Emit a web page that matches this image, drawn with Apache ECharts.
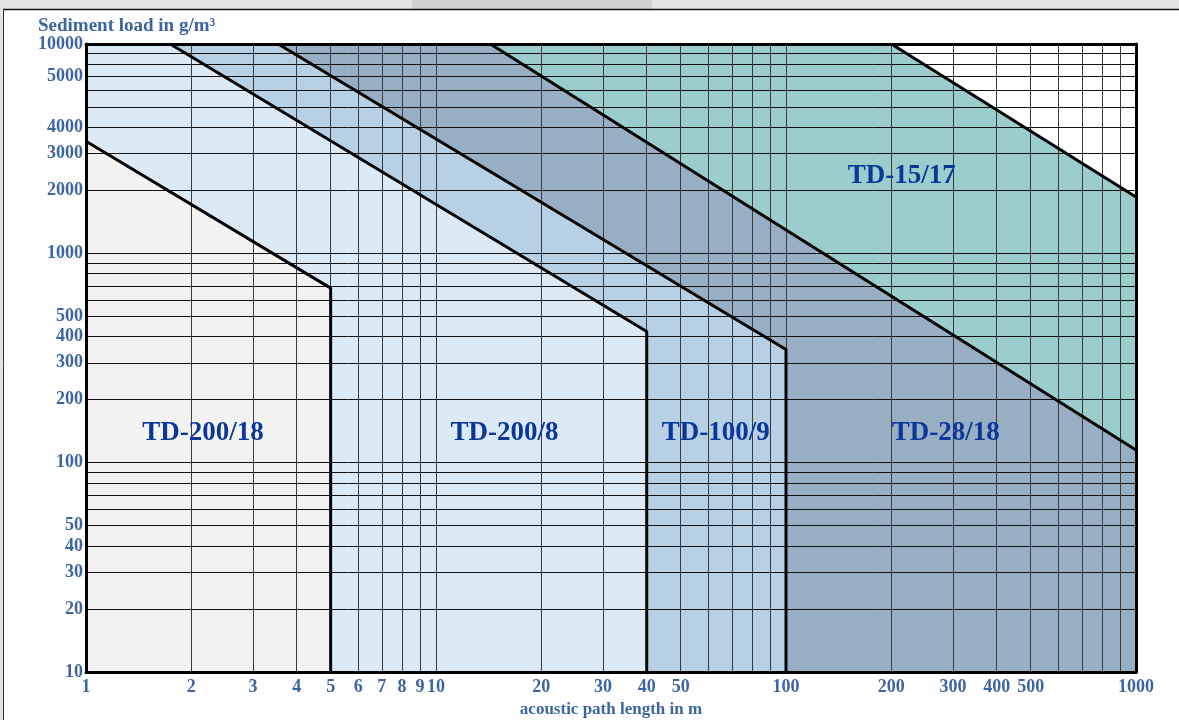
<!DOCTYPE html>
<html>
<head>
<meta charset="utf-8">
<script src="https://cdn.jsdelivr.net/npm/echarts@6/dist/echarts.min.js"></script>
<style>
html,body{margin:0;padding:0;background:#fff;}
#c{width:1179px;height:720px;}
</style>
</head>
<body>
<div id="c"></div>
<script>
// ---- data ----
const xGridValues = [1,2,3,4,5,6,7,8,9,10,20,30,40,50,60,70,80,90,100,200,300,400,500,600,700,800,900,1000];
const xLabelValues = [1,2,3,4,5,6,7,8,9,10,20,30,40,50,100,200,300,400,500,1000];
const yGridValues = [10,20,30,40,50,60,70,80,90,100,200,300,400,500,600,700,800,900,1000,2000,3000,4000,5000,6000,7000,8000,9000,10000];
const yLabelValues = [10,20,30,40,50,100,200,300,400,500,1000,2000,3000,4000,7000,10000];
const yLabelTexts  = ['10','20','30','40','50','100','200','300','400','500','1000','2000','3000','4000','5000','10000'];

// upper/right boundary of each instrument's range (path length m, sediment load g/m3)
const td15_17  = [[200,10000],[1000,1860]];
const td28_18  = [[14.3,10000],[1000,115]];
const td100_9  = [[3.54,10000],[100,347],[100,10]];
const td200_8  = [[1.74,10000],[40,423],[40,10]];
const td200_18 = [[1,3430],[5,682],[5,10]];

const regionNames = ['TD-15/17','TD-28/18','TD-100/9','TD-200/8','TD-200/18'];
const regionEdges = [td15_17, td28_18, td100_9, td200_8, td200_18];
const regionColors = ['#9ccdcd','#98aec2','#b7d0e3','#dbeaf5','#f2f2f2'];
const labelPositions = [[214,2350],[286,138],[63,138],[15.7,138],[2.16,138]];

const X_MIN = 1, X_MAX = 1000, Y_MIN = 10, Y_MAX = 10000;

function polygonOf(edge){
  const pts = [[X_MIN,Y_MIN]];
  if (edge[0][0] > X_MIN) pts.push([X_MIN,Y_MAX]);
  edge.forEach(p => pts.push(p));
  const last = edge[edge.length-1];
  if (last[1] > Y_MIN) pts.push([last[0],Y_MIN]);
  return pts;
}

const FONT = 'Liberation Serif';
const AX_COL = '#3d65a1';

const series = [];
regionEdges.forEach((edge, i) => {
  const poly = polygonOf(edge);
  series.push({
    type:'custom', z:1, silent:true, clip:true,
    data:[[X_MIN,Y_MIN]],
    renderItem:(params, api) => ({
      type:'polygon',
      shape:{points: poly.map(p => api.coord(p))},
      style:{fill: regionColors[i]}
    })
  });
});
regionEdges.forEach((edge) => {
  series.push({
    type:'line', z:5, silent:true, symbol:'none', data: edge,
    lineStyle:{color:'#000', width:3}
  });
});
series.push({
  type:'custom', z:8, silent:true,
  data: labelPositions.map((p,i) => [p[0],p[1],i]),
  renderItem:(params, api) => {
    const c = api.coord([api.value(0), api.value(1)]);
    return {
      type:'text', x:c[0], y:c[1],
      style:{text: regionNames[api.value(2)], fill:'#0a3799', align:'center', verticalAlign:'middle',
        font:'bold 27px "Liberation Serif"'}
    };
  }
});

const chart = echarts.init(document.getElementById('c'), null, {renderer:'canvas'});
chart.setOption({
  animation:false,
  backgroundColor:'#fff',
  title:{text:'Sediment load in g/m³', left:38, top:17, padding:0,
    textStyle:{fontFamily:FONT, fontWeight:'bold', fontSize:19, color:AX_COL}},
  grid:{left:86, right:43, top:44, bottom:48, outerBoundsMode:'none', containLabel:false},
  graphic:[
    {type:'rect', shape:{x:0,y:0,width:1179,height:9}, style:{fill:'#e3e3e3'}, z:10},
    {type:'rect', shape:{x:412,y:0,width:240,height:9}, style:{fill:'#d0d0d0'}, z:10},
    {type:'rect', shape:{x:0,y:9,width:3,height:711}, style:{fill:'#e3e3e3'}, z:10},
    {type:'line', shape:{x1:3,y1:9.5,x2:1179,y2:9.5}, style:{stroke:'#111',lineWidth:1.5}, z:10},
    {type:'line', shape:{x1:3.5,y1:9,x2:3.5,y2:720}, style:{stroke:'#333',lineWidth:1}, z:10}
  ],
  xAxis:[{
    type:'log', logBase:10, min:X_MIN, max:X_MAX, z:3,
    name:'acoustic path length in m', nameLocation:'middle', nameGap:28,
    nameTextStyle:{fontFamily:FONT, fontWeight:'bold', fontSize:17, color:AX_COL},
    axisLine:{show:true, lineStyle:{color:'#000', width:3}},
    axisTick:{show:false, customValues:xGridValues},
    splitLine:{show:true, lineStyle:{color:'#3a3a3a', width:1}},
    axisLabel:{customValues:xLabelValues, margin:6, formatter: v => String(v),
      fontFamily:FONT, fontWeight:'bold', fontSize:18, color:AX_COL}
  },{
    type:'log', logBase:10, min:X_MIN, max:X_MAX, position:'top', z:6,
    axisLine:{show:true, lineStyle:{color:'#000', width:3}},
    axisTick:{show:false}, axisLabel:{show:false}, splitLine:{show:false}
  }],
  yAxis:[{
    type:'log', logBase:10, min:Y_MIN, max:Y_MAX, z:3,
    axisLine:{show:true, lineStyle:{color:'#000', width:3}},
    axisTick:{show:false, customValues:yGridValues},
    splitLine:{show:true, lineStyle:{color:'#111', width:1}},
    axisLabel:{customValues:yLabelValues, margin:3, padding:[11,0,0,0],
      formatter: v => { const k = yLabelValues.indexOf(Math.round(v)); return k >= 0 ? yLabelTexts[k] : ''; },
      fontFamily:FONT, fontWeight:'bold', fontSize:18, color:AX_COL}
  },{
    type:'log', logBase:10, min:Y_MIN, max:Y_MAX, position:'right', z:6,
    axisLine:{show:true, lineStyle:{color:'#000', width:3}},
    axisTick:{show:false}, axisLabel:{show:false}, splitLine:{show:false}
  }],
  series: series
});
</script>
</body>
</html>
